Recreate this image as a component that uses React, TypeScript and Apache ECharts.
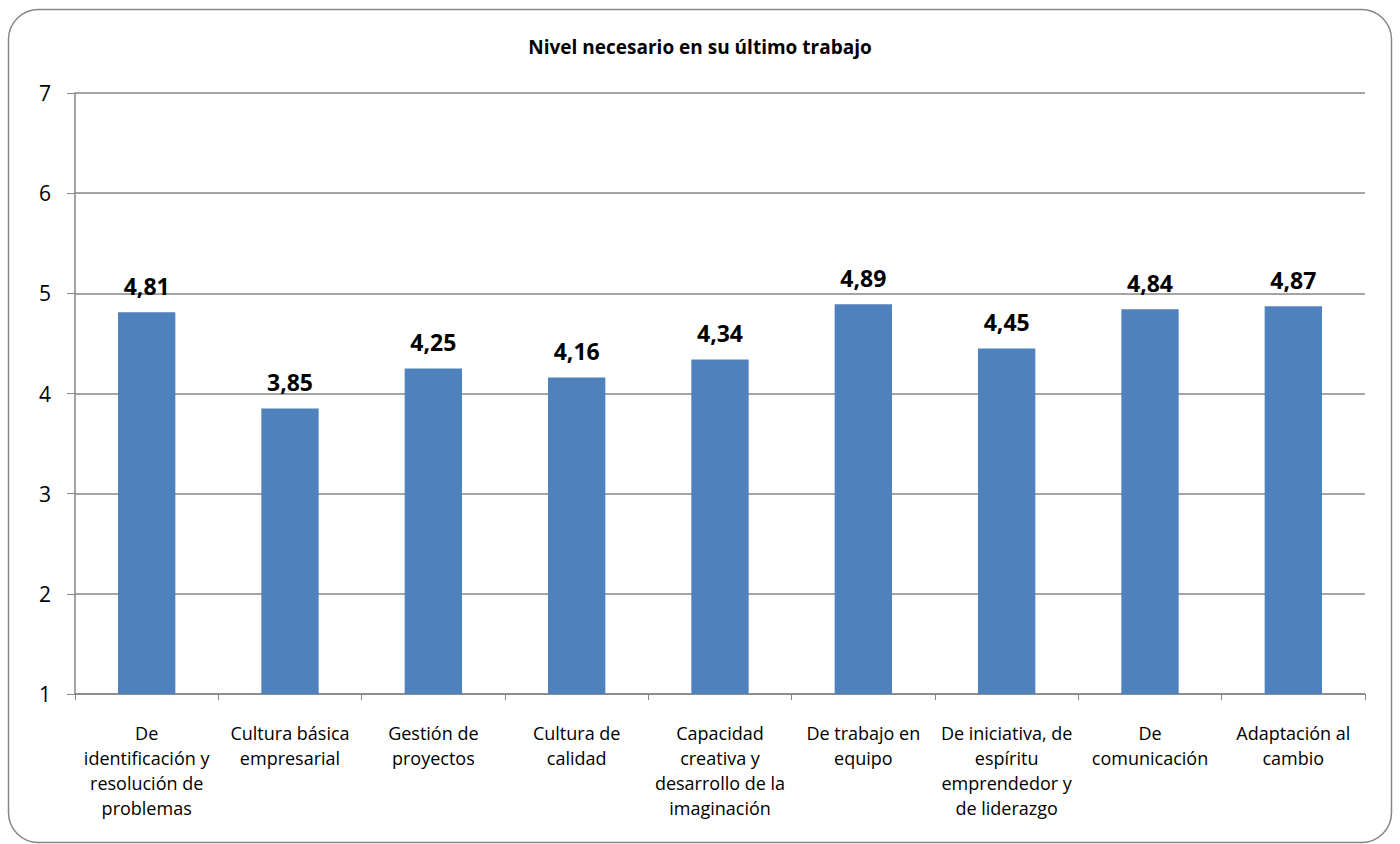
import React, { useEffect, useRef } from "react";
import * as echarts from "echarts";

const title = "Nivel necesario en su último trabajo";
const categories = [
  "De\nidentificación y\nresolución de\nproblemas",
  "Cultura básica\nempresarial",
  "Gestión de\nproyectos",
  "Cultura de\ncalidad",
  "Capacidad\ncreativa y\ndesarrollo de la\nimaginación",
  "De trabajo en\nequipo",
  "De iniciativa, de\nespíritu\nemprendedor y\nde liderazgo",
  "De\ncomunicación",
  "Adaptación al\ncambio",
];
const values = [4.81, 3.85, 4.25, 4.16, 4.34, 4.89, 4.45, 4.84, 4.87];
const yMin = 1;
const yMax = 7;
const yInterval = 1;

const FONT = "'Open Sans', 'Liberation Sans', sans-serif";

export default function App() {
  const ref = useRef<HTMLDivElement>(null);
  useEffect(() => {
    if (!ref.current) return;
    const chart = echarts.init(ref.current, undefined, { renderer: "svg" });
    chart.setOption({
      animation: false,
      backgroundColor: "#ffffff",
      graphic: [
        {
          type: "rect",
          shape: { x: 8.5, y: 9.5, width: 1383, height: 833, r: 30 },
          style: { fill: "none", stroke: "#868686", lineWidth: 1.5 },
          silent: true,
        },
      ],
      title: {
        text: title,
        left: "center",
        top: 32,
        textStyle: { fontFamily: FONT, fontSize: 19, fontWeight: "bold", color: "#000" },
      },
      grid: { left: 75, right: 35, top: 93, bottom: 150, containLabel: false },
      xAxis: {
        type: "category",
        data: categories,
        axisLine: { lineStyle: { color: "#868686", width: 1.5 } },
        axisTick: { show: true, length: 6, alignWithLabel: false, lineStyle: { color: "#868686" } },
        axisLabel: {
          fontFamily: FONT,
          fontSize: 18,
          color: "#000",
          lineHeight: 25,
          margin: 26,
          interval: 0,
        },
      },
      yAxis: {
        type: "value",
        min: yMin,
        max: yMax,
        interval: yInterval,
        axisLine: { show: true, lineStyle: { color: "#868686", width: 1.5 } },
        axisTick: { show: true, length: 8, lineStyle: { color: "#868686" } },
        axisLabel: { fontFamily: FONT, fontSize: 21, color: "#000", margin: 24 },
        splitLine: { lineStyle: { color: "#868686", width: 1.5 } },
      },
      series: [
        {
          type: "bar",
          data: values,
          barWidth: "40%",
          itemStyle: { color: "#4F81BD" },
          label: {
            show: true,
            position: "top",
            distance: 15,
            fontFamily: FONT,
            fontSize: 23,
            fontWeight: "bold",
            color: "#000",
            formatter: (p: any) => p.value.toFixed(2).replace(".", ","),
          },
        },
      ],
    });
    return () => chart.dispose();
  }, []);
  return <div ref={ref} style={{ width: 1400, height: 844, position: "absolute", left: 0, top: 0 }} />;
}
